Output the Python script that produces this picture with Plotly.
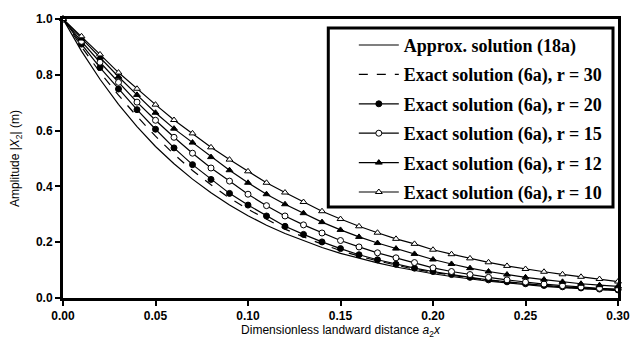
import plotly.graph_objects as go

x_vals = [0.00, 0.01, 0.02, 0.03, 0.04, 0.05, 0.06, 0.07, 0.08, 0.09, 0.10,
          0.11, 0.12, 0.13, 0.14, 0.15, 0.16, 0.17, 0.18, 0.19, 0.20,
          0.21, 0.22, 0.23, 0.24, 0.25, 0.26, 0.27, 0.28, 0.29, 0.30]

approx_18a = [1.000, 0.885, 0.784, 0.694, 0.614, 0.543, 0.481, 0.426, 0.377, 0.333, 0.295,
              0.261, 0.231, 0.205, 0.181, 0.160, 0.142, 0.126, 0.111, 0.098, 0.087,
              0.077, 0.068, 0.060, 0.054, 0.047, 0.042, 0.037, 0.033, 0.029, 0.026]
exact_r30 = [1.000, 0.900, 0.809, 0.727, 0.651, 0.580, 0.515, 0.457, 0.406, 0.358, 0.318,
             0.281, 0.247, 0.219, 0.193, 0.170, 0.150, 0.133, 0.117, 0.103, 0.092,
             0.081, 0.072, 0.063, 0.056, 0.050, 0.044, 0.039, 0.035, 0.031, 0.028]
exact_r20 = [1.000, 0.910, 0.826, 0.749, 0.675, 0.605, 0.538, 0.478, 0.425, 0.375, 0.333,
             0.294, 0.257, 0.228, 0.201, 0.177, 0.155, 0.137, 0.121, 0.107, 0.095,
             0.084, 0.074, 0.065, 0.058, 0.051, 0.045, 0.040, 0.036, 0.032, 0.029]
exact_r15 = [1.000, 0.920, 0.845, 0.773, 0.702, 0.637, 0.576, 0.519, 0.466, 0.419, 0.372,
             0.331, 0.294, 0.262, 0.233, 0.206, 0.183, 0.162, 0.144, 0.127, 0.108,
             0.095, 0.084, 0.074, 0.065, 0.057, 0.050, 0.044, 0.039, 0.035, 0.032]
exact_r12 = [1.000, 0.930, 0.862, 0.793, 0.728, 0.664, 0.607, 0.557, 0.505, 0.458, 0.413,
             0.372, 0.336, 0.304, 0.272, 0.244, 0.219, 0.197, 0.177, 0.158, 0.138,
             0.122, 0.107, 0.095, 0.084, 0.074, 0.066, 0.058, 0.051, 0.046, 0.042]
exact_r10 = [1.000, 0.938, 0.873, 0.808, 0.750, 0.693, 0.638, 0.590, 0.540, 0.496, 0.454,
             0.413, 0.378, 0.344, 0.311, 0.283, 0.257, 0.234, 0.212, 0.194, 0.173,
             0.157, 0.142, 0.128, 0.115, 0.104, 0.094, 0.085, 0.076, 0.068, 0.059]

series_names = ["Approx. solution (18a)",
                "Exact solution (6a), r = 30",
                "Exact solution (6a), r = 20",
                "Exact solution (6a), r = 15",
                "Exact solution (6a), r = 12",
                "Exact solution (6a), r = 10"]

x_ticks = [0.00, 0.05, 0.10, 0.15, 0.20, 0.25, 0.30]
x_tick_labels = ["0.00", "0.05", "0.10", "0.15", "0.20", "0.25", "0.30"]
y_ticks = [0.0, 0.2, 0.4, 0.6, 0.8, 1.0]
y_tick_labels = ["0.0", "0.2", "0.4", "0.6", "0.8", "1.0"]

fig = go.Figure()

styles = [
    dict(values=approx_18a, dash="solid", marker=None),
    dict(values=exact_r30, dash="dash", marker=None),
    dict(values=exact_r20, dash="solid", marker=dict(symbol="circle", size=6, color="black",
                                                     line=dict(color="black", width=1))),
    dict(values=exact_r15, dash="solid", marker=dict(symbol="circle", size=6, color="white",
                                                     line=dict(color="black", width=1))),
    dict(values=exact_r12, dash="solid", marker=dict(symbol="triangle-up", size=6, color="black",
                                                     line=dict(color="black", width=1))),
    dict(values=exact_r10, dash="solid", marker=dict(symbol="triangle-up", size=6, color="white",
                                                     line=dict(color="black", width=1))),
]

for i, (name, st) in enumerate(zip(series_names, styles)):
    kw = dict(x=x_vals, y=st["values"], name=name, legendgroup="g%d" % i,
              line=dict(color="black", width=1.2, dash=st["dash"]),
              cliponaxis=False)
    if st["marker"] is None:
        kw["mode"] = "lines"
    else:
        kw["mode"] = "lines+markers"
        kw["marker"] = st["marker"]
    fig.add_trace(go.Scatter(**kw))

# legend frame (white box with thick border) drawn as a paper-space shape
fig.add_shape(type="rect", xref="paper", yref="paper",
              x0=0.478, x1=0.991, y0=0.326, y1=0.968,
              fillcolor="white", line=dict(color="black", width=3), layer="above")

fig.update_layout(
    width=642, height=347,
    margin=dict(l=63, r=14, t=18, b=47),
    paper_bgcolor="white", plot_bgcolor="white",
    showlegend=True,
    legend=dict(x=0.524, y=0.972, xanchor="left", yanchor="top",
                bgcolor="rgba(0,0,0,0)", borderwidth=0,
                font=dict(family="Liberation Serif", size=18, color="black", weight="bold"),
                traceorder="grouped", tracegroupgap=3, itemwidth=40),
    xaxis=dict(range=[0, 0.30], tickvals=x_ticks, ticktext=x_tick_labels,
               showline=True, linewidth=3, linecolor="black", mirror=True,
               ticks="outside", ticklen=5, tickwidth=2, tickcolor="black",
               showgrid=False, zeroline=False,
               tickfont=dict(family="Liberation Sans", size=12, color="black", weight="bold"),
               title=dict(text="Dimensionless landward distance <i>a</i><sub>2</sub><i>x</i>",
                          font=dict(family="Liberation Sans", size=12, color="black"),
                          standoff=3)),
    yaxis=dict(range=[0, 1.0], tickvals=y_ticks, ticktext=y_tick_labels,
               showline=True, linewidth=3, linecolor="black", mirror=True,
               ticks="outside", ticklen=5, tickwidth=2, tickcolor="black",
               showgrid=False, zeroline=False,
               tickfont=dict(family="Liberation Sans", size=12, color="black", weight="bold"),
               title=dict(text="Amplitude |<i>X</i><sub>2</sub>| (m)",
                          font=dict(family="Liberation Sans", size=12, color="black"),
                          standoff=14)),
)

fig.write_html("out.html",
               config={"displayModeBar": False},
               post_script="document.body.style.margin='0';document.body.style.overflow='hidden';")
